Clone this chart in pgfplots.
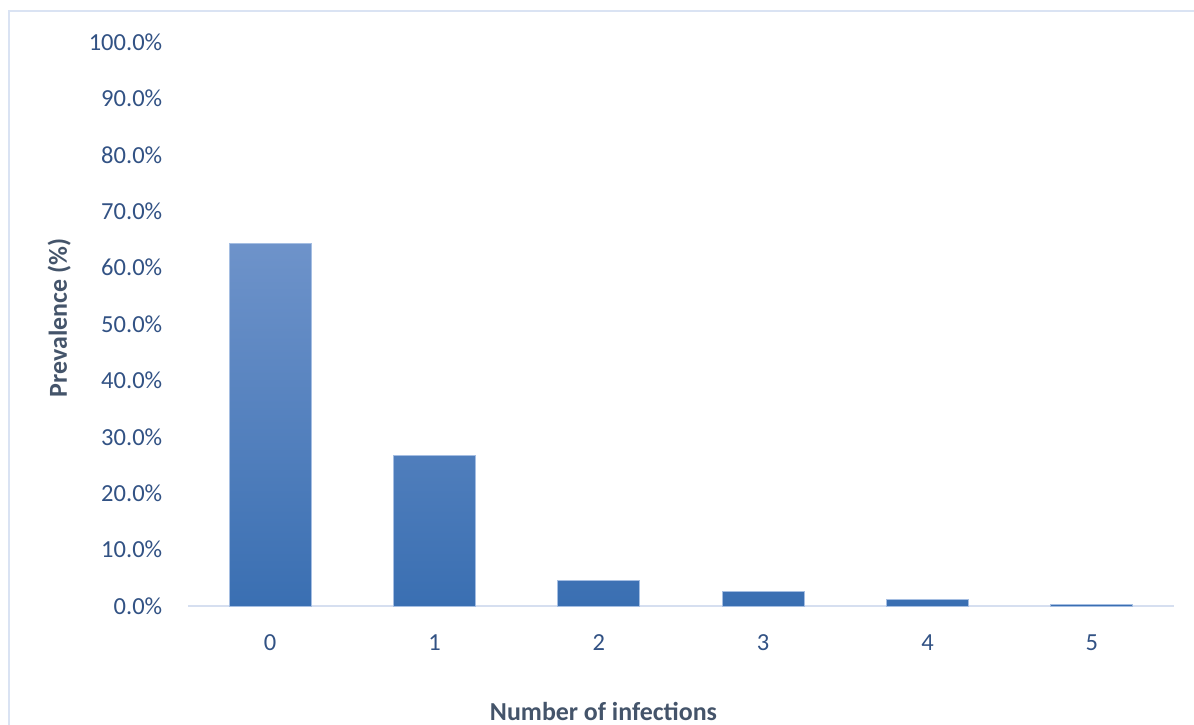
\documentclass[border=0pt]{standalone}
\usepackage{pgfplots}
\pgfplotsset{compat=1.18}
\usepackage{fontspec}
\setmainfont{Carlito}
\definecolor{tickblue}{RGB}{50,82,132}
\definecolor{titlegray}{RGB}{68,84,106}
\definecolor{barTop}{RGB}{110,147,202}
\definecolor{barBot}{RGB}{58,111,178}
\definecolor{barEdge}{RGB}{165,190,226}
\definecolor{axisgray}{RGB}{214,223,240}
\definecolor{framegray}{RGB}{218,227,243}
\begin{document}
\begin{tikzpicture}
\useasboundingbox (-94bp,-59.5bp) rectangle (503bp,303bp);
\draw[framegray, line width=1bp] (-89.5bp,-80bp) -- (-89.5bp,297.5bp) -- (520bp,297.5bp);
\begin{axis}[
  at={(0,0)}, anchor=south west,
  scale only axis, width=493bp, height=282bp,
  xmin=-0.5, xmax=5.5, ymin=0, ymax=100,
  axis lines=left,
  x axis line style={draw=axisgray, line width=1bp, -},
  y axis line style={draw=none},
  major tick length=0pt,
  xtick={0,1,2,3,4,5},
  ytick={0,10,...,100},
  /pgf/number format/assume math mode=true,
  yticklabel={\pgfmathprintnumber[fixed,fixed zerofill,precision=1]{\tick}\%},
  ticklabel style={font=\fontsize{12.3}{14}\selectfont, text=tickblue, inner sep=0pt},
  xticklabel style={anchor=north, yshift=-14bp},
  yticklabel style={anchor=east, xshift=-12.7bp},
  clip=false,
]
\addplot[ybar, bar width=41bp, top color=barTop, bottom color=barBot, draw=barEdge, line width=0.5bp]
  coordinates {(0,64.3) (1,26.7) (2,4.6) (3,2.6) (4,1.15) (5,0.3)};
\end{axis}
\node[font=\bfseries\fontsize{13}{15}\selectfont, text=titlegray, anchor=base, inner sep=0pt] at (207.75bp,-57bp) {Number of infections};
\node[font=\bfseries\fontsize{13}{15}\selectfont, text=titlegray, anchor=base, rotate=90, inner sep=0pt] at (-60.5bp,144bp) {Prevalence (\%)};
\end{tikzpicture}
\end{document}
